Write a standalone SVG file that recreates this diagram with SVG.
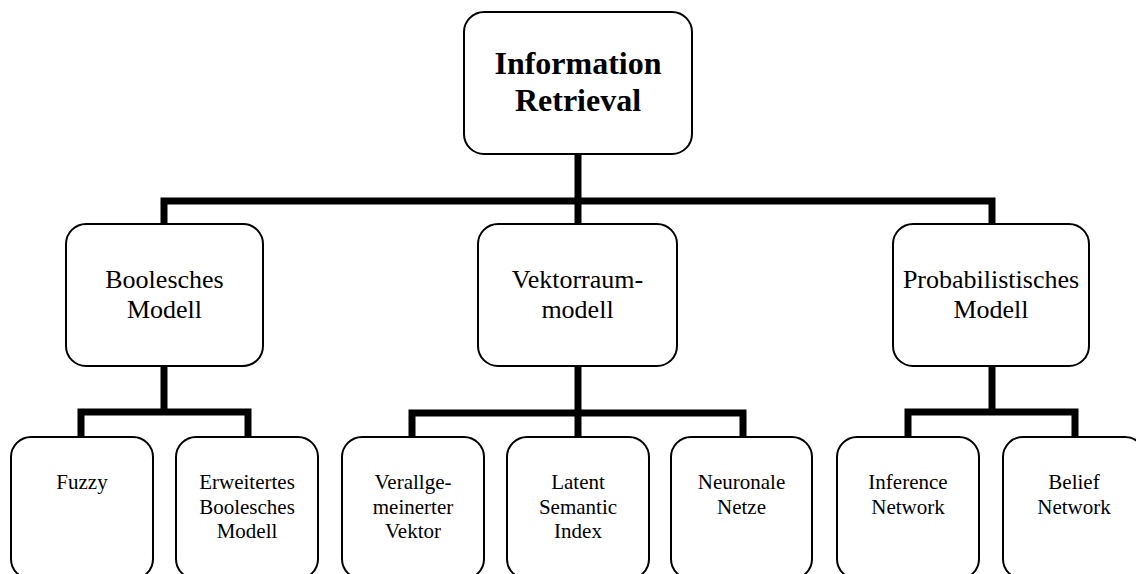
<svg xmlns="http://www.w3.org/2000/svg" width="1136" height="574" viewBox="0 0 1136 574">
<style>
.box{fill:#fff;stroke:#000;stroke-width:2}
.con{fill:none;stroke:#000;stroke-width:7;stroke-linejoin:miter;stroke-linecap:butt}
text{font-family:"Liberation Serif","Times New Roman",serif;fill:#000;text-anchor:middle}
.t0{font-size:32px;font-weight:bold}
.t1{font-size:26px}
.t2{font-size:21px}
</style>
<rect width="1136" height="574" fill="#fff"/>
<g id="connectors">
<path class="con" d="M578 154 V224"/>
<path class="con" d="M164 224 V201 H992 V224"/>
<path class="con" d="M164 366 V412"/>
<path class="con" d="M81 437 V412 H248 V437"/>
<path class="con" d="M578 366 V437"/>
<path class="con" d="M412 437 V413 H743 V437"/>
<path class="con" d="M992 366 V412"/>
<path class="con" d="M908 437 V412 H1075 V437"/>
</g>
<g id="n-ir"><rect class="box" x="464" y="12" width="228" height="142" rx="20"/><text class="t0" x="578" y="74">Information</text><text class="t0" x="578" y="111">Retrieval</text></g>
<g id="n-bool"><rect class="box" x="66" y="224" width="197" height="142" rx="20"/><text class="t1" x="164.5" y="288">Boolesches</text><text class="t1" x="164.5" y="318">Modell</text></g>
<g id="n-vek"><rect class="box" x="478" y="224" width="199" height="142" rx="20"/><text class="t1" x="577.5" y="288">Vektorraum-</text><text class="t1" x="577.5" y="318">modell</text></g>
<g id="n-prob"><rect class="box" x="893" y="224" width="196" height="142" rx="20"/><text class="t1" x="991" y="288">Probabilistisches</text><text class="t1" x="991" y="318">Modell</text></g>
<g id="n-fuzzy"><rect class="box" x="11" y="437" width="142" height="142" rx="20"/><text class="t2" x="82" y="489">Fuzzy</text></g>
<g id="n-erw"><rect class="box" x="176" y="437" width="142" height="142" rx="20"/><text class="t2" x="247" y="489">Erweitertes</text><text class="t2" x="247" y="513.5">Boolesches</text><text class="t2" x="247" y="538">Modell</text></g>
<g id="n-verall"><rect class="box" x="342" y="437" width="142" height="142" rx="20"/><text class="t2" x="413" y="489">Verallge-</text><text class="t2" x="413" y="513.5">meinerter</text><text class="t2" x="413" y="538">Vektor</text></g>
<g id="n-lsi"><rect class="box" x="507" y="437" width="142" height="142" rx="20"/><text class="t2" x="578" y="489">Latent</text><text class="t2" x="578" y="513.5">Semantic</text><text class="t2" x="578" y="538">Index</text></g>
<g id="n-nn"><rect class="box" x="671" y="437" width="141" height="142" rx="20"/><text class="t2" x="741.5" y="489">Neuronale</text><text class="t2" x="741.5" y="513.5">Netze</text></g>
<g id="n-inf"><rect class="box" x="837" y="437" width="142" height="142" rx="20"/><text class="t2" x="908" y="489">Inference</text><text class="t2" x="908" y="513.5">Network</text></g>
<g id="n-belief"><rect class="box" x="1003" y="437" width="142" height="142" rx="20"/><text class="t2" x="1074" y="489">Belief</text><text class="t2" x="1074" y="513.5">Network</text></g>
</svg>
